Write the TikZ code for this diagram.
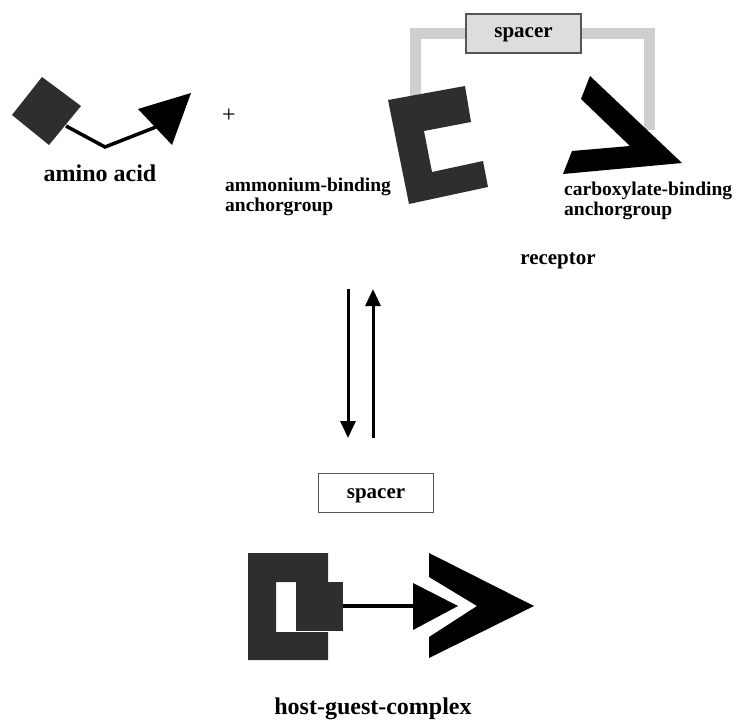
\documentclass[tikz,border=0pt]{standalone}
\usepackage{fontspec}
\setmainfont{Liberation Serif}
\usetikzlibrary{arrows.meta}
\definecolor{darkfill}{HTML}{2E2E2E}
\definecolor{spacerline}{HTML}{CFCFCF}
\definecolor{spacerfill}{HTML}{DDDDDD}
\definecolor{spacerrule}{HTML}{555555}
\tikzset{
  darkpart/.style={fill=darkfill, draw=none},
  blackpart/.style={fill=black, draw=none},
  bond/.style={line width=3.5pt, line join=miter},
  linker/.style={line width=11pt, color=spacerline, line join=miter},
  label/.style={font=\bfseries\fontsize{19.5}{19.5}\selectfont, align=left, inner sep=0pt},
  biglabel/.style={font=\bfseries\fontsize{24}{26}\selectfont, inner sep=0pt},
  midlabel/.style={font=\bfseries\fontsize{21}{23}\selectfont, inner sep=0pt},
  equil/.style={line width=3pt, -{Triangle[width=15pt,length=17pt]}},
}
\begin{document}
\begin{tikzpicture}[x=1pt, y=-1pt]
\useasboundingbox (0,0) rectangle (737,725);

% ---------- amino acid ----------
\fill[darkfill] (12,115) -- (42,77) -- (81,106) -- (49,145) -- cycle;
\fill[black] (138,109) -- (191,93) -- (172,145) -- cycle;
\coordinate (aaN) at (66,126);
\coordinate (aaBend) at (105,147);
\coordinate (aaC) at (156,127);
\draw[bond] (aaN) -- (aaBend) -- (aaC);
\node[biglabel, anchor=base] (aalabel) at (100,181) {amino acid};

\node[font=\fontsize{24}{26}\selectfont, inner sep=0pt] (plus) at (229,116) {+};

% the base anchor of a two-line label sits on its second line
\node[label, anchor=base west] (ammlabel) at (225,211)
  {ammonium-binding\\anchorgroup};

% ---------- receptor ----------
\coordinate (linkL) at (415,105);
\coordinate (linkR) at (649,130);
\node[minimum width=115pt, minimum height=39pt, inner sep=0pt,
      fill=spacerfill, draw=spacerrule, line width=1.2pt] (spacerA) at (523.5,33.5) {};
\draw[linker] (linkL) |- (spacerA.west);
\draw[linker] (spacerA.east) -| (linkR);
\node[midlabel, anchor=base] (spacerAtext) at (523.5,38) {spacer};

% ammonium-binding anchor group
\fill[darkfill] (388,100) -- (465,86) -- (471,122) -- (424,131) -- (432,172)
  -- (483,161) -- (488,187) -- (409,204) -- cycle;
% carboxylate-binding anchor group
\fill[black] (590,76) -- (682,163) -- (563,174) -- (572,151) -- (630,146)
  -- (581,99) -- cycle;

\node[label, anchor=base west] (carblabel) at (564,215)
  {carboxylate-binding\\anchorgroup};
\node[midlabel, anchor=base] (reclabel) at (558,264) {receptor};

% ---------- equilibrium ----------
\coordinate (fwdA) at (348,289);
\coordinate (fwdB) at (348,438);
\coordinate (revA) at (373,438);
\coordinate (revB) at (373,289);
\draw[equil] (fwdA) -- (fwdB);
\draw[equil] (revA) -- (revB);

% ---------- host-guest complex ----------
\node[minimum width=115pt, minimum height=39pt, inner sep=0pt,
      fill=white, draw=spacerrule, line width=1pt] (spacerB) at (375.5,492.5) {};
\node[midlabel, anchor=base] (spacerBtext) at (376,498) {spacer};

\fill[darkfill] (248,553) -- (328,553) -- (328,582) -- (276,582) -- (276,632)
  -- (328,632) -- (328,660) -- (248,660) -- cycle;
\fill[darkfill] (296,582) rectangle (343,631);
\fill[black] (413,583) -- (458,606) -- (413,630) -- cycle;
\coordinate (hgN) at (343,606);
\coordinate (hgC) at (414,606);
\draw[line width=4pt] (hgN) -- (hgC);
\fill[black] (429,553) -- (534,606) -- (429,658) -- (429,637) -- (477,606)
  -- (429,577) -- cycle;

\node[biglabel, anchor=base] (hglabel) at (373,714) {host-guest-complex};
\end{tikzpicture}
\end{document}
